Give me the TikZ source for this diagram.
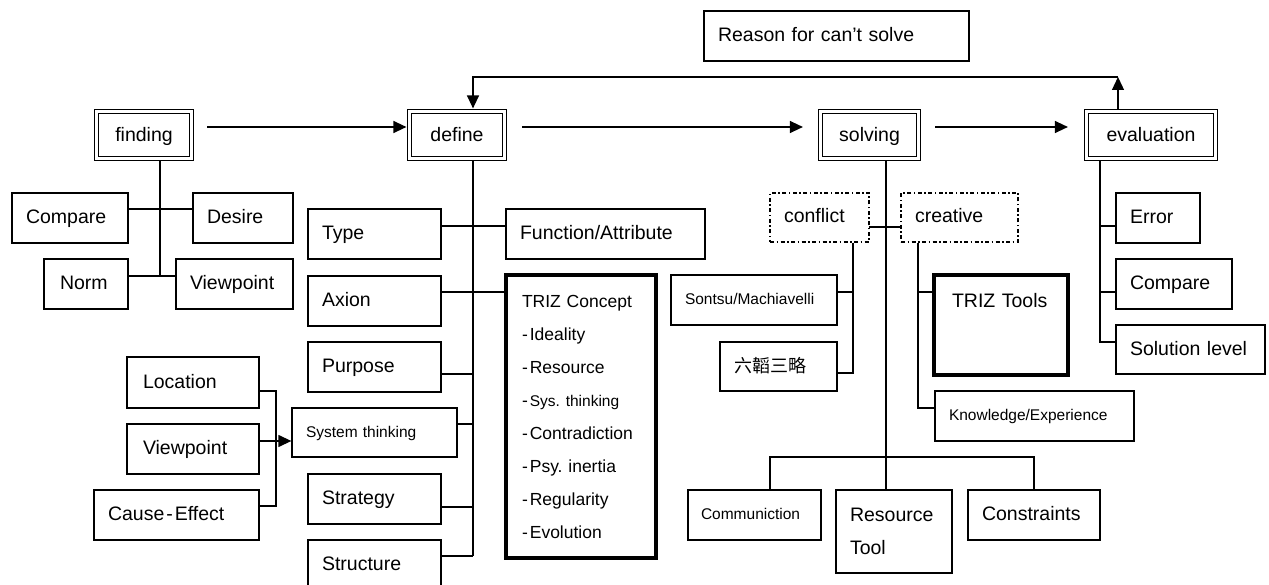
\documentclass[tikz,border=0pt]{standalone}
\usepackage{fontspec}
\setmainfont{Liberation Sans}
\newfontfamily\cjkfont{Noto Sans CJK TC}
\usetikzlibrary{arrows.meta,backgrounds}
\newcommand\mainsz{\fontsize{19.5}{33}\selectfont}
\newcommand\smallsz{\fontsize{15.5}{33}\selectfont}
\newcommand\listsz{\fontsize{17.5}{33}\selectfont}
\frenchspacing
\begin{document}
\begin{tikzpicture}[x=1pt,y=-1pt,
  ln/.style={line width=1.3pt},
  plainbox/.style={draw, line width=1.3pt, fill=white, inner xsep=14pt, inner ysep=0pt, align=left, font=\mainsz},
  sz/.style 2 args={minimum width=#1pt, minimum height=#2pt, text width=#1pt-28pt, text height=14pt, text depth=3pt},
  stage/.style={draw, line width=1.2pt, double=white, double distance=2.6pt, fill=white, inner sep=0pt, font=\mainsz,
                text height=16pt, text depth=2pt},
  heavy/.style={line width=3.3pt},
  dashdot/.style={dash pattern=on 4pt off 2.5pt on 1.5pt off 2.5pt},
  arr/.style={line width=1.3pt, -{Triangle[length=13pt,width=12pt]}},
]
\path[use as bounding box] (0,0) rectangle (1269,585);

% ---- main stages ----
\node[stage, minimum width=95pt, minimum height=47pt] (finding) at (144,135) {finding};
\node[stage, minimum width=95pt, minimum height=47pt] (define) at (457,135) {define};
\node[stage, minimum width=98pt, minimum height=47pt] (solving) at (869.5,135) {solving};
\node[stage, minimum width=129pt, minimum height=47pt] (evaluation) at (1151,135) {evaluation};

\node[plainbox, sz={265}{50}] (reason) at (836.5,36) {Reason for can’t solve};

% ---- finding ----
\node[plainbox, sz={116}{50}] (cmpA) at (70,218) {Compare};
\node[plainbox, sz={100}{50}] (desire) at (243,218) {Desire};
\node[plainbox, sz={84}{50}, inner xsep=16pt, text width=52pt] (norm) at (86,284) {Norm};
\node[plainbox, sz={117}{50}] (viewA) at (234.5,284) {Viewpoint};

% ---- define ----
\node[plainbox, sz={133}{50}] (type) at (374.5,234) {Type};
\node[plainbox, sz={133}{50}] (axion) at (374.5,301) {Axion};
\node[plainbox, sz={133}{50}] (purpose) at (374.5,367) {Purpose};
\node[plainbox, sz={165}{49}, font=\smallsz, text height=12pt] (systhink) at (374.5,432.5) {System thinking};
\node[plainbox, sz={133}{50}] (strategy) at (374.5,499) {Strategy};
\node[plainbox, sz={133}{50}] (structure) at (374.5,565) {Structure};
\node[plainbox, sz={199}{50}] (function) at (605.5,234) {Function/Attribute};
\node[plainbox, heavy, minimum width=150pt, minimum height=283pt, inner xsep=16pt, text width=118pt, font=\listsz] (concept) at (581,416.5)
  {TRIZ Concept\\
   -\hspace{2pt}Ideality\\
   -\hspace{2pt}Resource\\
   -\hspace{2pt}{\smallsz Sys. thinking}\\
   -\hspace{2pt}Contradiction\\
   -\hspace{2pt}Psy. inertia\\
   -\hspace{2pt}Regularity\\
   -\hspace{2pt}Evolution};

% ---- inputs of system thinking ----
\node[plainbox, sz={132}{51}, inner xsep=16pt, text width=100pt] (location) at (193,382.5) {Location};
\node[plainbox, sz={132}{50}, inner xsep=16pt, text width=100pt] (viewB) at (193,449) {Viewpoint};
\node[plainbox, sz={165}{50}] (cause) at (176.5,515) {Cause\hspace{2pt}-\hspace{2pt}Effect};

% ---- solving ----
\node[plainbox, dashdot, sz={99}{49}] (conflict) at (819.5,217.5) {conflict};
\node[plainbox, dashdot, sz={117}{49}] (creative) at (959.5,217.5) {creative};
\node[plainbox, sz={166}{50}, font=\smallsz, text height=12pt] (sontsu) at (754,300) {Sontsu/Machiavelli};
\node[plainbox, sz={117}{49}, font=\cjkfont\fontsize{18}{22}\selectfont] (liutao) at (778.5,366.5) {六韜三略};
\node[plainbox, heavy, minimum width=134pt, inner xsep=18pt, text width=98pt, text height=33pt, text depth=67pt] (tools) at (1001,325) {TRIZ Tools};
\node[plainbox, sz={199}{50}, font=\smallsz, text height=12pt] (knowledge) at (1034.5,416) {Knowledge/Experience};
\node[plainbox, sz={133}{50}, inner xsep=13pt, text width=107pt, font=\smallsz, text height=12pt] (comm) at (754.5,515) {Communiction};
\node[plainbox, minimum width=116pt, minimum height=83pt, text width=88pt] (restool) at (894,531.5) {Resource\\Tool};
\node[plainbox, sz={132}{50}] (constraints) at (1034,515) {Constraints};

% ---- evaluation ----
\node[plainbox, sz={84}{50}] (error) at (1158,218) {Error};
\node[plainbox, sz={116}{50}] (cmpB) at (1174,284) {Compare};
\node[plainbox, sz={149}{49}] (sollevel) at (1190.5,349.5) {Solution level};

% ---- junction points ----
\coordinate (fa) at (160,209);  \coordinate (fb) at (160,276);
\coordinate (dT) at (473,226);  \coordinate (dA) at (473,292);
\coordinate (dP) at (473,374);  \coordinate (dS) at (473,424);
\coordinate (dG) at (473,507);  \coordinate (dR) at (473,556);
\coordinate (lA) at (276,391);  \coordinate (lB) at (276,441);  \coordinate (lC) at (276,506);
\coordinate (sC) at (886,227);
\coordinate (cL) at (770,457);  \coordinate (cR) at (1034,457);
\coordinate (kA) at (853,292);  \coordinate (kB) at (853,373);
\coordinate (cA) at (918,292);  \coordinate (cB) at (918,408);
\coordinate (eA) at (1100,226); \coordinate (eB) at (1100,292); \coordinate (eC) at (1100,342);
\coordinate (backR) at (1118,77); \coordinate (backL) at (473,77);

% ---- tree connectors, kept behind the boxes ----
\begin{scope}[on background layer]
  \fill[white] (0,0) rectangle (1269,585);
  % finding
  \draw[ln] (finding.south -| fa) -- (fb);
  \draw[ln] (cmpA |- fa) -- (desire |- fa);
  \draw[ln] (norm |- fb) -- (viewA |- fb);
  % define
  \draw[ln] (define.south -| dR) -- (dR);
  \draw[ln] (type |- dT) -- (function |- dT);
  \draw[ln] (axion |- dA) -- (concept |- dA);
  \draw[ln] (purpose |- dP) -- (dP);
  \draw[ln] (systhink |- dS) -- (dS);
  \draw[ln] (strategy |- dG) -- (dG);
  \draw[ln] (structure |- dR) -- (dR);
  % inputs of system thinking
  \draw[ln] (location |- lA) -- (lA) -- (lC) -- (cause |- lC);
  \draw[arr] (viewB |- lB) -- (systhink.west |- lB);
  % solving
  \draw[ln] (solving.south -| sC) -- (restool.north -| sC);
  \draw[ln] (conflict |- sC) -- (creative |- sC);
  \draw[ln] (comm.north -| cL) -- (cL) -- (cR) -- (constraints.north);
  \draw[ln] (conflict.south -| kA) -- (kB) -- (liutao |- kB);
  \draw[ln] (sontsu |- kA) -- (kA);
  \draw[ln] (creative.south -| cA) -- (cB) -- (knowledge |- cB);
  \draw[ln] (cA) -- (tools |- cA);
  % evaluation
  \draw[ln] (evaluation.south -| eC) -- (eC) -- (sollevel |- eC);
  \draw[ln] (eA) -- (error |- eA);
  \draw[ln] (eB) -- (cmpB |- eB);
  % feedback loop
  \draw[arr] (evaluation.north -| backR) -- (backR);
  \draw[arr] (backR) -- (backL) -- ([yshift=2.5pt]define.north -| backL);
\end{scope}

% ---- process arrows ----
\draw[arr] ([xshift=15pt,yshift=8pt]finding.east) -- ([xshift=-2.5pt,yshift=8pt]define.west);
\draw[arr] ([xshift=17pt,yshift=8pt]define.east) -- ([xshift=-17pt,yshift=8pt]solving.west);
\draw[arr] ([xshift=16pt,yshift=8pt]solving.east) -- ([xshift=-18pt,yshift=8pt]evaluation.west);
\end{tikzpicture}
\end{document}
